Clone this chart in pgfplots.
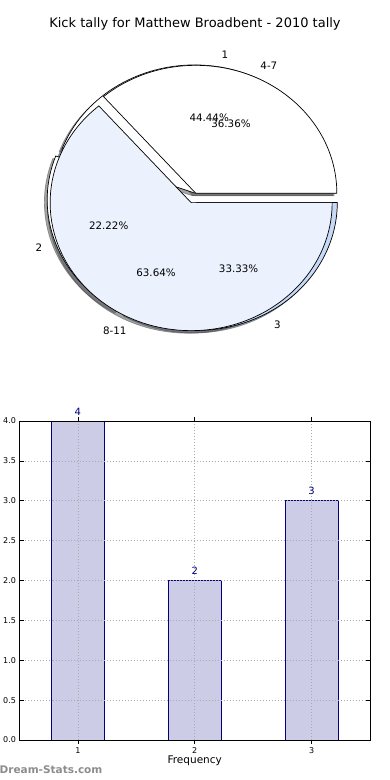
\documentclass[border=0pt]{standalone}
\usepackage{pgfplots}
\pgfplotsset{compat=1.18}
\usepackage{fontspec}
\setmainfont{DejaVu Sans}
\definecolor{barfill}{RGB}{204,204,230}
\definecolor{navyc}{RGB}{0,0,128}
\definecolor{lightblue}{RGB}{236,242,253}
\definecolor{midblue}{RGB}{198,217,246}
\definecolor{gridgray}{RGB}{170,170,170}
\definecolor{wmgray}{RGB}{140,140,140}

% pie data (plain numbers)
\def\Aone{4}\def\Atwo{2}\def\Athree{3}
\def\Bone{4}\def\Btwo{7}
\def\expl{0.04}

% #1 start angle, #2 end angle, #3 fill, #4 extra dx, #5 extra dy, #6 style
\newcommand{\slice}[6]{%
  \pgfmathsetmacro\mm{(#1+#2)/2}%
  \pgfmathsetmacro\cx{\expl*cos(\mm)+#4}%
  \pgfmathsetmacro\cy{\expl*sin(\mm)+#5}%
  \pgfmathsetmacro\sx{\cx+cos(#1)}%
  \pgfmathsetmacro\sy{\cy+sin(#1)}%
  \filldraw[fill=#3,#6] (axis cs:\cx,\cy) -- (axis cs:\sx,\sy)
     arc[start angle=#1,end angle=#2,x radius=141pt,y radius=128pt] -- cycle;%
}
% #1 start, #2 end, #3 outer label, #4 pct label
\newcommand{\slicelabels}[4]{%
  \pgfmathsetmacro\mm{(#1+#2)/2}%
  \pgfmathsetmacro\lx{(\expl+1.1)*cos(\mm)}%
  \pgfmathsetmacro\ly{(\expl+1.1)*sin(\mm)}%
  \pgfmathsetmacro\px{(\expl+0.6)*cos(\mm)}%
  \pgfmathsetmacro\py{(\expl+0.6)*sin(\mm)}%
  \pgfmathparse{\lx>0?1:0}%
  \ifnum\pgfmathresult=1
    \node[anchor=west,inner sep=0pt,font=\fontsize{10.3}{12}\selectfont] at (axis cs:\lx,\ly) {#3};%
  \else
    \node[anchor=east,inner sep=0pt,font=\fontsize{10.3}{12}\selectfont] at (axis cs:\lx,\ly) {#3};%
  \fi
  \node[inner sep=0pt,font=\fontsize{10.3}{12}\selectfont] at (axis cs:\px,\py) {#4};%
}

\begin{document}
\begin{tikzpicture}
\useasboundingbox (0pt,0pt) rectangle (390pt,780pt);

% ---------------- pie ----------------
\begin{axis}[at={(0pt,400pt)}, anchor=south west,
  x=141pt, y=128pt,
  xmin=-1.3723, xmax=1.3936, ymin=-1.4219, ymax=1.5469,
  hide axis, clip=false,
  title={Kick tally for Matthew Broadbent - 2010 tally},
  title style={at={(axis description cs:0.5,1)}, anchor=center, yshift=-30pt,
    font=\fontsize{13}{15}\selectfont, inner sep=0pt},
]
\pgfplotsextra{%
  \pgfmathsetmacro\Atot{\Aone+\Atwo+\Athree}%
  \pgfmathsetmacro\aa{360*\Aone/\Atot}%
  \pgfmathsetmacro\ab{360*(\Aone+\Atwo)/\Atot}%
  \pgfmathsetmacro\ba{360*\Bone/(\Bone+\Btwo)}%
  \edef\aa{\aa}\edef\ab{\ab}\edef\ba{\ba}%
  % shadows
  \slice{0}{\aa}{black!70}{-0.02}{-0.02}{draw=black!70,opacity=0.5,line width=0.7pt}
  \slice{\aa}{\ab}{black!70}{-0.02}{-0.02}{draw=black!70,opacity=0.5,line width=0.7pt}
  \slice{\ab}{360}{midblue!30!black}{-0.02}{-0.02}{draw=midblue!30!black,opacity=0.5,line width=0.7pt}
  \slice{0}{\ba}{black!70}{-0.02}{-0.02}{draw=black!70,opacity=0.5,line width=0.7pt}
  \slice{\ba}{360}{lightblue!30!black}{-0.02}{-0.02}{draw=lightblue!30!black,opacity=0.5,line width=0.7pt}
  % pie A
  \slice{0}{\aa}{white}{0}{0}{draw=black,line width=0.7pt}
  \slice{\aa}{\ab}{white}{0}{0}{draw=black,line width=0.7pt}
  \slice{\ab}{360}{midblue}{0}{0}{draw=black,line width=0.7pt}
  % pie B
  \slice{0}{\ba}{white}{0}{0}{draw=black,line width=0.7pt}
  \slice{\ba}{360}{lightblue}{0}{0}{draw=black,line width=0.7pt}
  % labels
  \slicelabels{0}{\aa}{1}{44.44\%}
  \slicelabels{\aa}{\ab}{2}{22.22\%}
  \slicelabels{\ab}{360}{3}{33.33\%}
  \slicelabels{0}{\ba}{4-7}{36.36\%}
  \slicelabels{\ba}{360}{8-11}{63.64\%}
}
\end{axis}

% ---------------- bars ----------------
\begin{axis}[at={(19.5pt,40pt)}, anchor=south west,
  width=350.5pt, height=319pt, scale only axis,
  xmin=0.5, xmax=3.5, ymin=0, ymax=4,
  xtick={1,2,3}, ytick={0,0.5,1,1.5,2,2.5,3,3.5,4},
  grid=major,
  major grid style={gridgray, line width=0.7pt, dash pattern=on 1pt off 2pt},
  axis on top, clip=false,
  tick align=inside, major tick length=4pt,
  tick style={black, line width=0.6pt},
  axis line style={black, line width=0.8pt},
  /pgf/number format/assume math mode=true,
  yticklabel style={/pgf/number format/.cd, fixed, fixed zerofill, precision=1},
  ticklabel style={font=\fontsize{8}{9}\selectfont},
  xlabel={Frequency},
  xlabel style={at={(axis description cs:0.5,0)}, anchor=center, yshift=-21pt,
     font=\fontsize{10.5}{12}\selectfont, inner sep=0pt},
  ybar, bar width=0.45,
  nodes near coords,
  every node near coord/.append style={font=\fontsize{10}{12}\selectfont,
     text=navyc, inner sep=0pt, anchor=south, yshift=5.4pt},
]
\addplot[fill=barfill, draw=navyc, line width=0.7pt] coordinates {(1,4) (2,2) (3,3)};
\end{axis}

\node[anchor=west, inner sep=0pt, text=wmgray, font=\bfseries\fontsize{10.5}{12}\selectfont] at (-0.5pt,10pt) {Dream-Stats.com};
\end{tikzpicture}
\end{document}
